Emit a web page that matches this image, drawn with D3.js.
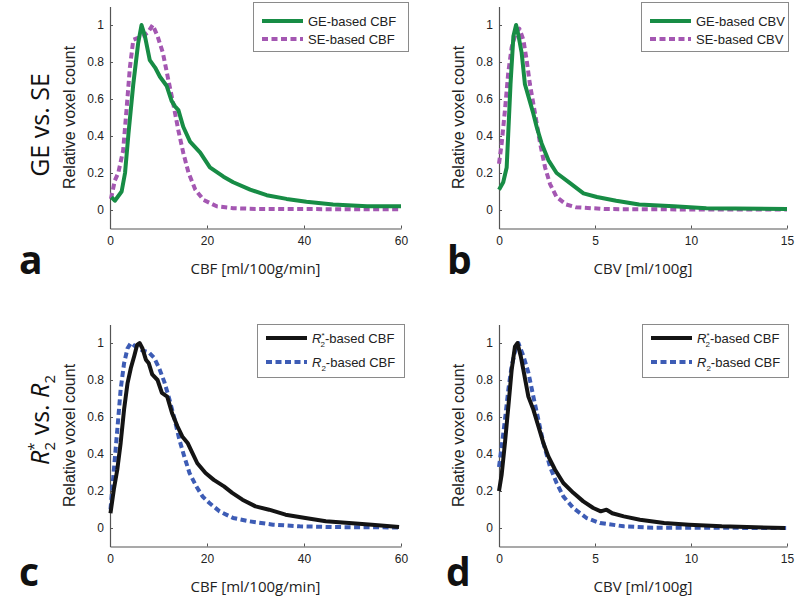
<!DOCTYPE html>
<html>
<head>
<meta charset="utf-8">
<script src="https://cdn.jsdelivr.net/npm/d3@7"></script>
<style>
  html, body { margin: 0; padding: 0; background: #fff; }
  svg { display: block; }
</style>
</head>
<body>
<svg id="chart" width="800" height="597"></svg>
<script>
// ---------- DATA ----------
const yTicks = [0, 0.2, 0.4, 0.6, 0.8, 1];
const cbfTicks = [0, 20, 40, 60];
const cbvTicks = [0, 5, 10, 15];

// Panel a: GE vs SE, CBF
const geCBF_x = [0.3, 1.0, 2.4, 3.1, 3.8, 4.8, 5.8, 6.5, 7.2, 8.2, 9.3, 10.3, 11.7, 12.7, 13.4, 14.1, 15.1, 16.5, 18.6, 20.6, 23.4, 25.4, 28.9, 32.3, 36.4, 40.5, 46, 53, 60];
const geCBF_y = [0.07, 0.05, 0.10, 0.20, 0.41, 0.68, 0.90, 1.00, 0.94, 0.81, 0.77, 0.72, 0.67, 0.59, 0.56, 0.54, 0.45, 0.37, 0.31, 0.23, 0.18, 0.15, 0.11, 0.08, 0.06, 0.045, 0.03, 0.02, 0.02];
const seCBF_x = [0.2, 1.0, 1.7, 2.7, 3.4, 4.1, 4.8, 5.8, 6.8, 7.8, 8.8, 9.8, 10.9, 11.9, 13.0, 14.1, 15.1, 16.2, 17.6, 19.3, 22, 25.4, 30, 40, 50, 60];
const seCBF_y = [0.06, 0.16, 0.20, 0.32, 0.54, 0.77, 0.92, 0.93, 0.94, 0.96, 1.00, 0.94, 0.85, 0.72, 0.58, 0.43, 0.31, 0.20, 0.11, 0.054, 0.02, 0.01, 0.006, 0.005, 0.004, 0.004];

// Panel b: GE vs SE, CBV
const geCBV_x = [0, 0.22, 0.4, 0.48, 0.6, 0.75, 0.89, 1.0, 1.18, 1.35, 1.6, 1.79, 1.96, 2.22, 2.57, 3.0, 3.7, 4.4, 5.1, 6.1, 7.3, 9.1, 10.8, 15];
const geCBV_y = [0.11, 0.15, 0.23, 0.41, 0.68, 0.94, 1.00, 0.95, 0.85, 0.68, 0.59, 0.52, 0.45, 0.36, 0.27, 0.20, 0.145, 0.09, 0.07, 0.05, 0.03, 0.02, 0.01, 0.005];
const seCBV_x = [0, 0.14, 0.31, 0.48, 0.66, 0.89, 1.06, 1.27, 1.44, 1.61, 1.88, 2.14, 2.4, 2.66, 3.0, 3.5, 4.0, 5.6, 10, 15];
const seCBV_y = [0.25, 0.36, 0.54, 0.74, 0.88, 0.96, 0.98, 0.92, 0.81, 0.68, 0.52, 0.36, 0.23, 0.14, 0.07, 0.03, 0.015, 0.005, 0.003, 0.003];

// Panel c: R2* vs R2, CBF
const r2sCBF_x = [0.1, 0.8, 1.5, 2.2, 2.9, 3.6, 4.3, 5.0, 5.6, 6.1, 6.7, 7.4, 8.0, 8.7, 9.8, 10.7, 11.8, 12.8, 13.9, 14.9, 16.0, 17.0, 18.0, 19.7, 21.4, 23.5, 25.2, 27.3, 30.0, 32.8, 36.2, 40.3, 44.5, 49.3, 54, 59.6];
const r2sCBF_y = [0.08, 0.21, 0.315, 0.46, 0.64, 0.78, 0.865, 0.93, 0.99, 1.00, 0.97, 0.91, 0.89, 0.83, 0.80, 0.73, 0.71, 0.62, 0.55, 0.495, 0.46, 0.405, 0.35, 0.297, 0.26, 0.225, 0.19, 0.153, 0.117, 0.099, 0.072, 0.054, 0.036, 0.027, 0.018, 0.005];
const r2CBF_x = [0.1, 0.8, 1.5, 2.2, 2.9, 3.6, 4.3, 5.3, 6.7, 8.0, 9.1, 10.1, 11.2, 12.2, 13.3, 14.3, 15.3, 16.4, 17.8, 19.1, 20.5, 22.6, 25.4, 28.8, 33.6, 39.1, 46, 60];
const r2CBF_y = [0.10, 0.315, 0.53, 0.75, 0.89, 0.97, 1.00, 0.98, 0.96, 0.95, 0.92, 0.866, 0.79, 0.70, 0.59, 0.478, 0.388, 0.297, 0.225, 0.17, 0.135, 0.09, 0.054, 0.036, 0.018, 0.009, 0.005, 0.003];

// Panel d: R2* vs R2, CBV
const r2sCBV_x = [0, 0.14, 0.31, 0.49, 0.66, 0.83, 0.96, 1.13, 1.27, 1.53, 1.79, 2.05, 2.31, 2.57, 2.92, 3.35, 3.87, 4.39, 4.91, 5.3, 5.6, 5.9, 6.5, 7.34, 8.6, 9.9, 11.6, 14.9];
const r2sCBV_y = [0.20, 0.29, 0.46, 0.66, 0.855, 0.98, 1.00, 0.93, 0.855, 0.71, 0.64, 0.55, 0.46, 0.387, 0.315, 0.243, 0.19, 0.144, 0.108, 0.09, 0.099, 0.08, 0.063, 0.045, 0.027, 0.018, 0.009, 0.0];
const r2CBV_x = [0, 0.14, 0.31, 0.49, 0.66, 0.89, 1.01, 1.27, 1.53, 1.79, 2.05, 2.31, 2.66, 3.0, 3.35, 3.87, 4.56, 5.26, 6.5, 8, 15];
const r2CBV_y = [0.33, 0.44, 0.585, 0.75, 0.875, 0.98, 1.00, 0.93, 0.84, 0.71, 0.585, 0.46, 0.33, 0.243, 0.171, 0.108, 0.054, 0.027, 0.009, 0.002, 0.0];

const colGreen = "#178c45";
const colPurple = "#a457b2";
const colBlack = "#141414";
const colBlue = "#3d5cb5";

// ---------- DRAW ----------
const svg = d3.select("#chart");
const sans = "'Liberation Sans', Arial, sans-serif";
const myriad = "'Open Sans', 'Noto Sans', sans-serif";

function zip(xs, ys) { return xs.map((x, i) => [x, ys[i]]); }

const panels = [
  { x0: 110, x1: 401, top: 6.5, bot: 228.5, xmax: 60, xt: cbfTicks, xlabel: "CBF [ml/100g/min]",
    series: [
      { d: zip(geCBF_x, geCBF_y), c: colGreen, dash: null, name: "GE-based CBF" },
      { d: zip(seCBF_x, seCBF_y), c: colPurple, dash: "6,3.5", name: "SE-based CBF" }],
    leg: { x: 253, y: 2, w: 155, h: 49 } },
  { x0: 499, x1: 787, top: 6.5, bot: 228.5, xmax: 15, xt: cbvTicks, xlabel: "CBV [ml/100g]",
    series: [
      { d: zip(geCBV_x, geCBV_y), c: colGreen, dash: null, name: "GE-based CBV" },
      { d: zip(seCBV_x, seCBV_y), c: colPurple, dash: "6,3.5", name: "SE-based CBV" }],
    leg: { x: 641, y: 2, w: 147, h: 49 } },
  { x0: 110, x1: 401, top: 324.5, bot: 546.5, xmax: 60, xt: cbfTicks, xlabel: "CBF [ml/100g/min]",
    series: [
      { d: zip(r2sCBF_x, r2sCBF_y), c: colBlack, dash: null, name: "star" },
      { d: zip(r2CBF_x, r2CBF_y), c: colBlue, dash: "6,3.5", name: "plain" }],
    leg: { x: 257, y: 324, w: 147, h: 53 } },
  { x0: 499, x1: 787, top: 324.5, bot: 546.5, xmax: 15, xt: cbvTicks, xlabel: "CBV [ml/100g]",
    series: [
      { d: zip(r2sCBV_x, r2sCBV_y), c: colBlack, dash: null, name: "star" },
      { d: zip(r2CBV_x, r2CBV_y), c: colBlue, dash: "6,3.5", name: "plain" }],
    leg: { x: 642, y: 324, w: 146, h: 53 } }
];

panels.forEach(p => {
  const x = d3.scaleLinear().domain([0, p.xmax]).range([p.x0, p.x1]);
  const y = d3.scaleLinear().domain([-0.1, 1.1]).range([p.bot, p.top]);
  const g = svg.append("g");

  // axes
  const ya = g.append("g").attr("transform", `translate(${p.x0},0)`)
    .call(d3.axisLeft(y).tickValues(yTicks).tickSizeInner(-3).tickSizeOuter(0).tickPadding(6)
      .tickFormat(d => d === 0 || d === 1 ? String(d) : d.toFixed(1)));
  const xa = g.append("g").attr("transform", `translate(0,${p.bot})`)
    .call(d3.axisBottom(x).tickValues(p.xt).tickSizeInner(-3).tickSizeOuter(0).tickPadding(8));
  [ya, xa].forEach(a => {
    a.select(".domain").attr("stroke", "#555").attr("stroke-width", 1.2);
    a.selectAll(".tick line").attr("stroke", "#555");
    a.selectAll(".tick text").attr("font-family", sans).attr("font-size", 12).attr("fill", "#222");
  });

  // axis titles
  g.append("text")
    .attr("transform", `translate(${p.x0 - 35},${(p.top + p.bot) / 2}) rotate(-90)`)
    .attr("text-anchor", "middle").attr("font-family", sans).attr("font-size", 16).attr("fill", "#222")
    .text("Relative voxel count");
  g.append("text")
    .attr("x", (p.x0 + p.x1) / 2).attr("y", p.bot + 45)
    .attr("text-anchor", "middle").attr("font-family", myriad).attr("font-size", 15).attr("fill", "#222")
    .text(p.xlabel);

  // lines
  const line = d3.line().x(d => x(d[0])).y(d => y(d[1]));
  p.series.slice().reverse().forEach(s => {
    g.append("path").datum(s.d)
      .attr("d", line).attr("fill", "none").attr("stroke", s.c)
      .attr("stroke-width", 4).attr("stroke-linejoin", "round")
      .attr("stroke-dasharray", s.dash);
  });

  // legend
  const L = p.leg;
  const lg = g.append("g");
  lg.append("rect").attr("x", L.x + 0.5).attr("y", L.y + 0.5).attr("width", L.w).attr("height", L.h)
    .attr("fill", "#fff").attr("stroke", "#8a8a8a").attr("stroke-width", 1);
  p.series.forEach((s, i) => {
    const ly = L.y + (L.h > 50 ? 14 + i * 24 : 19 + i * 18);
    lg.append("line").attr("x1", L.x + 9).attr("x2", L.x + 50).attr("y1", ly).attr("y2", ly)
      .attr("stroke", s.c).attr("stroke-width", 4).attr("stroke-dasharray", s.dash);
    const t = lg.append("text").attr("x", L.x + 55).attr("y", ly + 5)
      .attr("font-family", sans).attr("font-size", 13).attr("fill", "#222");
    if (s.name === "star") {
      t.append("tspan").attr("font-style", "italic").text("R");
      t.append("tspan").attr("font-size", 8).attr("dy", -5).text("*");
      t.append("tspan").attr("font-size", 8).attr("dx", -4).attr("dy", 9).text("2");
      t.append("tspan").attr("dy", -4).text("-based CBF");
    } else if (s.name === "plain") {
      t.append("tspan").attr("font-style", "italic").text("R");
      t.append("tspan").attr("font-size", 8).attr("dy", 4).text("2");
      t.append("tspan").attr("dy", -4).text("-based CBF");
    } else {
      t.text(s.name);
    }
  });
});

// panel letters
const letters = [["a", 19, 274], ["b", 447, 274], ["c", 19, 586], ["d", 446, 586]];
letters.forEach(([s, lx, ly]) => {
  svg.append("text").attr("x", lx).attr("y", ly)
    .attr("font-family", myriad).attr("font-weight", "bold").attr("font-size", 39).attr("fill", "#111")
    .text(s);
});

// row labels
svg.append("text")
  .attr("transform", "translate(49,125) rotate(-90)")
  .attr("text-anchor", "middle").attr("font-family", myriad).attr("font-size", 25).attr("fill", "#111")
  .text("GE vs. SE");
const rl = svg.append("text")
  .attr("transform", "translate(49,420) rotate(-90)")
  .attr("text-anchor", "middle").attr("font-family", myriad).attr("font-size", 25).attr("fill", "#111");
rl.append("tspan").attr("font-style", "italic").text("R");
rl.append("tspan").attr("font-size", 15).attr("dy", -10).text("*");
rl.append("tspan").attr("font-size", 15).attr("dx", -8).attr("dy", 16).text("2");
rl.append("tspan").attr("dy", -6).text(" vs. ");
rl.append("tspan").attr("font-style", "italic").text("R");
rl.append("tspan").attr("font-size", 15).attr("dy", 6).text("2");
</script>
</body>
</html>
